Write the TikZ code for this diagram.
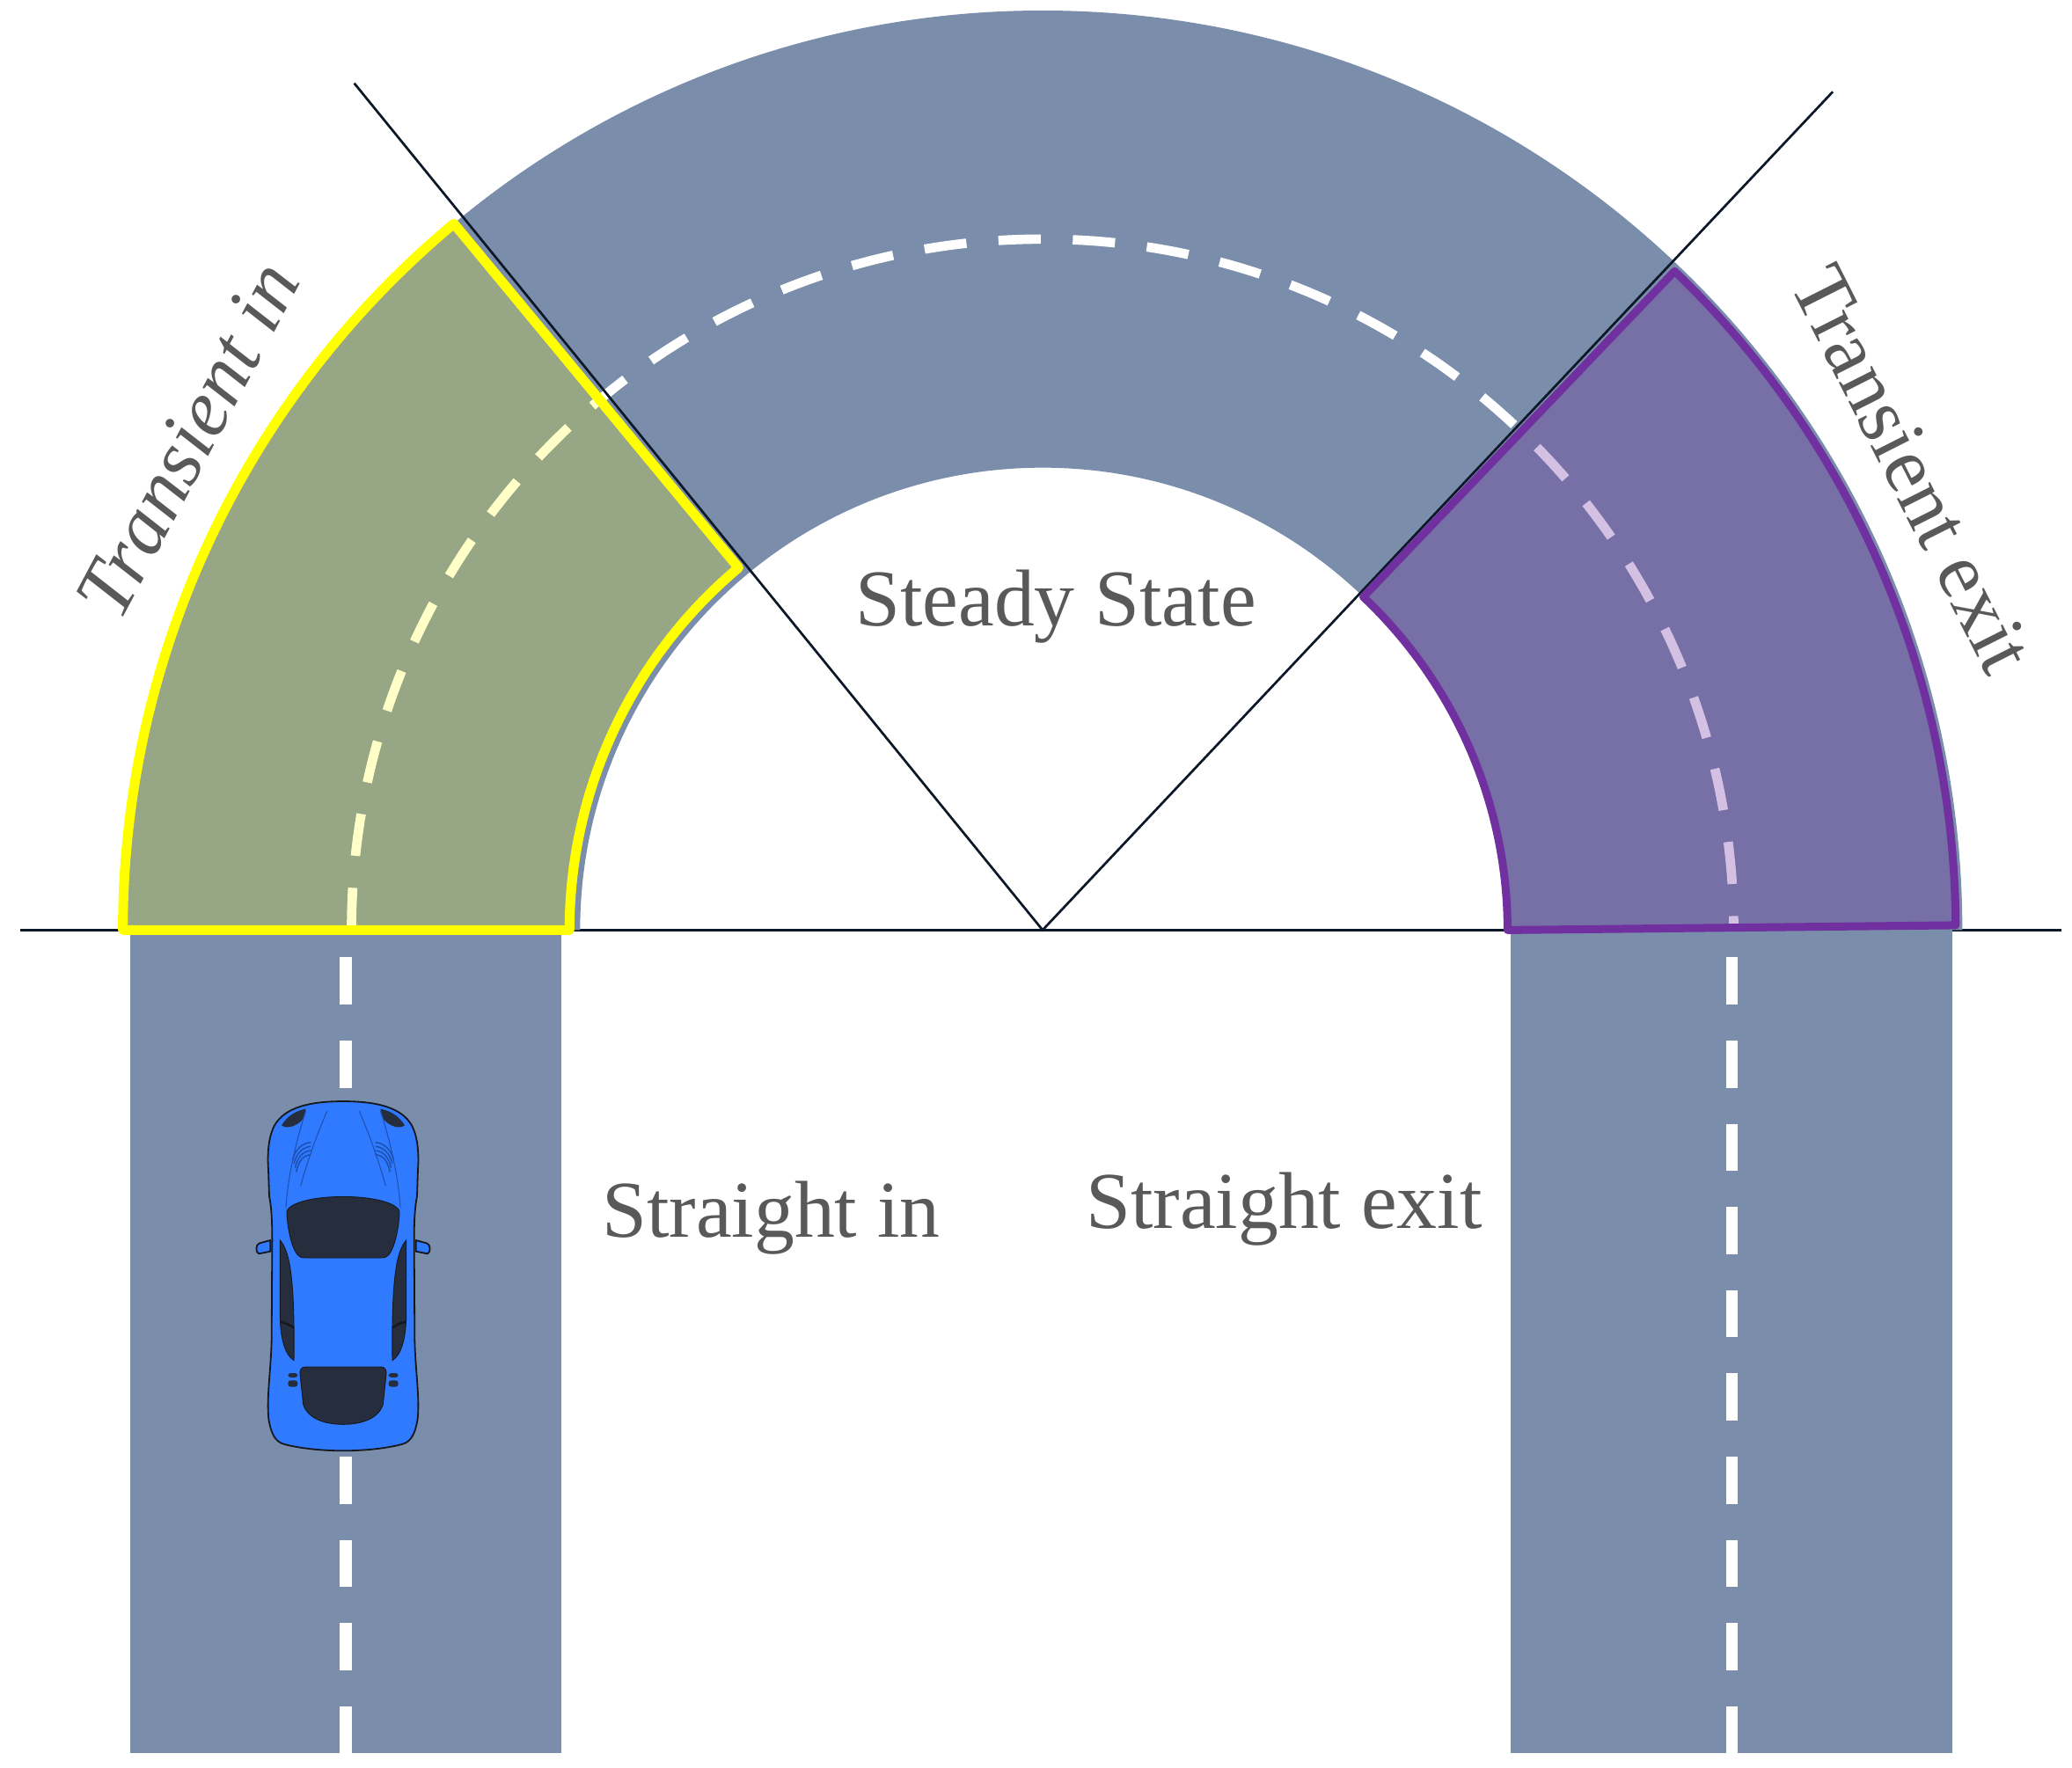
\documentclass[tikz,border=0pt]{standalone}
\usepackage{fontspec}
\setmainfont{Liberation Serif}
\definecolor{roadc}{RGB}{122,141,170}
\definecolor{guidec}{RGB}{12,24,40}
\definecolor{hlyellow}{RGB}{255,255,0}
\definecolor{hlpurple}{RGB}{112,48,160}
\definecolor{labelc}{RGB}{89,89,89}
\definecolor{carblue}{RGB}{47,122,255}
\definecolor{carwin}{RGB}{38,45,60}
\definecolor{carline}{RGB}{22,24,30}
\definecolor{hoodline}{RGB}{30,80,175}
\tikzset{
  road/.style={fill=roadc},
  laneline/.style={draw=white,line width=4.45pt,dash pattern=on 17.85pt off 13.65pt},
  arcline/.style={draw=white,line width=3.55pt,dash pattern=on 16pt off 12.15pt},
  guide/.style={draw=guidec,line width=0.9pt},
  yellowzone/.style={fill=hlyellow,fill opacity=0.22,draw=hlyellow,draw opacity=1,line width=3.7pt,line join=round},
  purplezone/.style={fill=hlpurple,fill opacity=0.3,draw=hlpurple,draw opacity=1,line width=3pt,line join=round},
  lbl/.style={text=labelc,inner sep=0pt,anchor=base,font=\fontsize{30.5pt}{36pt}\selectfont},
  carbody/.style={fill=carblue,draw=carline,line width=0.6pt,line join=round},
  carglass/.style={fill=carwin,draw=carline,line width=0.3pt},
  carhood/.style={draw=hoodline,line width=0.35pt},
}
\begin{document}
\begin{tikzpicture}[x=0.5pt,y=0.5pt]
\fill[white] (-789,-634) rectangle (779,704);
\useasboundingbox (-789,-634) rectangle (779,704);
% reference points
\coordinate (C) at (0,0);
\coordinate (B1) at (-773.5,0);
\coordinate (B2) at (771,0);
\coordinate (L) at (129.1:826);
\coordinate (R) at (46.7:872);
% base line
\draw[guidec,line width=1.1pt] (B1) -- (B2);
% roads
\path[road] (0:696) arc[start angle=0,end angle=180,radius=696] -- (180:350) arc[start angle=180,end angle=0,radius=350] -- cycle;
\path[road] (-690.3,0) rectangle (-364.5,-623.2);
\path[road] (354,0) rectangle (688.5,-623.2);
% lane markings
\draw[arcline] (180:523) arc[start angle=180,end angle=0,radius=523];
\draw[laneline] (-527.3,-20.6) -- (-527.3,-623.2);
\draw[laneline] (521.5,-20.6) -- (521.5,-623.2);
% guide lines
\draw[guide] (L) -- (C) -- (R);
% transient zones
\path[yellowzone] (180:696) arc[start angle=180,end angle=129.8,radius=696] -- (130:358) arc[start angle=130,end angle=180,radius=358] -- cycle;
\path[purplezone] (356,0) -- (0.3:691) arc[start angle=0.3,end angle=46.2,radius=691] -- (46.1:350) arc[start angle=46.1,end angle=0,x radius=356,y radius=350] -- cycle;
% car
\begin{scope}[shift={(-304.6pt,-57.5pt)},x=0.11095pt,y=-0.11095pt]
\path[carbody] (112,540) -- (75,550) .. controls (62,553) and (60,580) .. (72,586) -- (112,578) -- cycle;
\path[carbody] (608,540) -- (645,550) .. controls (658,553) and (660,580) .. (648,586) -- (608,578) -- cycle;
\path[carbody] (360,66) .. controls (470,66) and (560,85) .. (595,150)
  .. controls (618,195) and (618,260) .. (615,300) -- (612,390)
  .. controls (606,420) and (602,460) .. (602,540) -- (604,880)
  .. controls (606,980) and (622,1080) .. (614,1150)
  .. controls (606,1200) and (592,1228) .. (560,1236)
  .. controls (500,1252) and (420,1258) .. (360,1258)
  .. controls (300,1258) and (220,1252) .. (160,1236)
  .. controls (128,1228) and (114,1200) .. (106,1150)
  .. controls (98,1080) and (114,980) .. (116,880) -- (118,540)
  .. controls (118,460) and (114,420) .. (108,390) -- (105,300)
  .. controls (102,260) and (102,195) .. (125,150)
  .. controls (160,85) and (250,66) .. (360,66) -- cycle;
% headlights
\fill[carwin] (150,148) .. controls (170,115) and (200,98) .. (232,92) .. controls (235,115) and (220,140) .. (185,152) .. controls (170,156) and (158,154) .. (150,148) -- cycle;
\fill[carwin] (570,148) .. controls (550,115) and (520,98) .. (488,92) .. controls (485,115) and (500,140) .. (535,152) .. controls (550,156) and (562,154) .. (570,148) -- cycle;
% hood lines
\draw[carhood] (232,100) .. controls (200,200) and (170,330) .. (165,430);
\draw[carhood] (305,100) .. controls (270,180) and (235,280) .. (215,355);
\draw[carhood] (488,100) .. controls (520,200) and (550,330) .. (555,430);
\draw[carhood] (415,100) .. controls (450,180) and (485,280) .. (505,355);
\foreach \k in {0,1,2,3}{
  \draw[carhood,line width=0.5pt] (188+4*\k,265+14*\k) .. controls (196+4*\k,230+14*\k) and (222,208+14*\k) .. (250,206+14*\k);
  \draw[carhood,line width=0.5pt] (532-4*\k,265+14*\k) .. controls (524-4*\k,230+14*\k) and (498,208+14*\k) .. (470,206+14*\k);
}
% windows
\path[carglass] (168,440) .. controls (200,375) and (520,375) .. (552,440) .. controls (552,480) and (540,560) .. (515,590) .. controls (508,598) and (500,600) .. (490,600) -- (230,600) .. controls (220,600) and (212,598) .. (205,590) .. controls (180,560) and (168,480) .. (168,440) -- cycle;
\path[carglass] (145,540) .. controls (180,580) and (195,680) .. (192,950) .. controls (160,930) and (146,870) .. (145,800) -- cycle;
\path[carglass] (575,540) .. controls (540,580) and (525,680) .. (528,950) .. controls (560,930) and (574,870) .. (575,800) -- cycle;
\draw[carline,line width=0.8pt] (147,818) .. controls (165,822) and (180,830) .. (192,838);
\draw[carline,line width=0.8pt] (573,818) .. controls (555,822) and (540,830) .. (528,838);
\path[carglass] (232,972) -- (488,972) .. controls (505,972) and (510,985) .. (506,1005) -- (496,1100) .. controls (480,1150) and (420,1168) .. (360,1168) .. controls (300,1168) and (240,1150) .. (224,1100) -- (214,1005) .. controls (210,985) and (215,972) .. (232,972) -- cycle;
% rear vents
\fill[carwin,rounded corners=1pt] (172,993) rectangle (205,1008);
\fill[carwin,rounded corners=1pt] (172,1018) rectangle (205,1040);
\fill[carwin,rounded corners=1pt] (515,993) rectangle (548,1008);
\fill[carwin,rounded corners=1pt] (515,1018) rectangle (548,1040);
\end{scope}
% labels
\node[lbl] (steady) at (10,230.2) {Steady State};
\node[lbl] (strin) at (-205.5,-232.6) {Straight in};
\node[lbl] (strexit) at (182.7,-225.9) {Straight exit};
\node[lbl,rotate=62,font=\fontsize{30.5pt}{36pt}\selectfont\itshape] (trin) at (-629.3,362) {Transient in};
\node[lbl,rotate=-63.2] (trexit) at (640.3,339.7) {Transient exit};
\end{tikzpicture}
\end{document}
